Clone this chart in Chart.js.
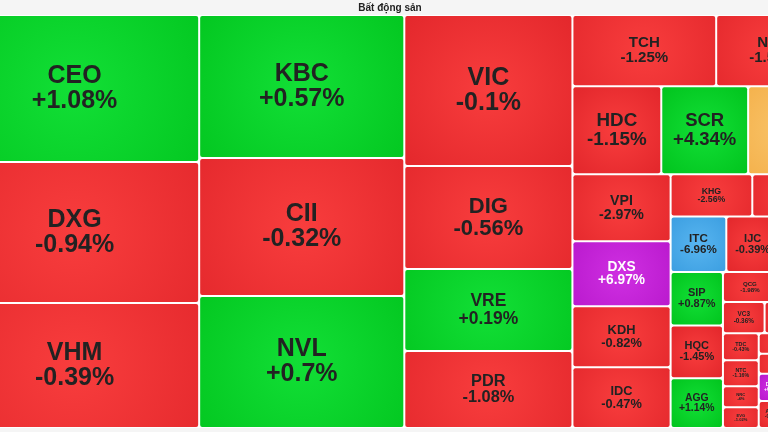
<!DOCTYPE html>
<html>
<head>
<meta charset="utf-8">
<title>Bất động sản</title>
<script src="https://cdn.jsdelivr.net/npm/chart.js"></script>
<style>
  html, body { margin: 0; padding: 0; background: #f5f5f5; overflow: hidden; }
  #wrap { position: absolute; left: -50px; top: 0; width: 880px; height: 432px; }
</style>
</head>
<body>
<div id="wrap"><canvas id="chart_1" width="880" height="432"></canvas></div>
<script>
// tickers in layout order (biggest first), size = trading value weight, change in %
const tickers = ['CEO','DXG','VHM','KBC','CII','NVL','VIC','DIG','VRE','PDR',
  'TCH','NLG','HDC','SCR','SZC','VPI','DXS','KDH','IDC','KHG',
  'HDG','ITC','IJC','NBB','SIP','HQC','AGG','QCG','CRE','VC3',
  'HAR','LDG','TDC','NTC','NRC','EVG','HPX','DIH','SJS','LHG',
  'DRH','AMD','BCM','PTL','NTL','D2D'];
const sizes = [36603,35109,31125,29315,28290,27060,25368,17304,13776,12936,
  10224,8094,7832,7656,7216,6566,6370,5980,5970,3444,
  3276,3080,2915,2820,2808,2756,2600,1620,1600,1302,
  1054,992,960,930,750,745,740,720,715,700,
  690,680,670,660,600,570];
const changes = [1.08,-0.94,-0.39,0.57,-0.32,0.7,-0.1,-0.56,0.19,-1.08,
  -1.25,-1.52,-1.15,4.34,0,-2.97,6.97,-0.82,-0.47,-2.56,
  -1.21,-6.96,-0.39,-0.85,0.87,-1.45,1.14,-1.98,-1.33,-0.36,
  -1.6,-0.9,-0.43,-1.16,-4,-1.02,-1.05,-0.5,-0.15,-0.6,
  6.9,-0.5,-0.2,-1,-0.7,-0.3];
const title = 'Bất động sản';

function palette(c) {
  if (c >= 6.9) return ['#b515c9', '#cf2fe2', '#ffffff'];
  if (c <= -6.9) return ['#3a9de0', '#58b5f0', '#222222'];
  if (c > 0) return ['#00c21c', '#12df36', '#222222'];
  if (c < 0) return ['#e1252a', '#f83d3d', '#222222'];
  return ['#f4b04a', '#f9c56b', '#222222'];
}

function fmt(c) {
  if (c === 0) return '0%';
  return (c > 0 ? '+' : '') + String(+c.toFixed(2)) + '%';
}

// squarified layout in value space, rows kept close to a landscape aspect
function squarify(vals, x0, y0, x1, y1, target) {
  const rects = [];
  let rest = vals.reduce((a, b) => a + b, 0);
  let i = 0;
  while (i < vals.length) {
    const dx = x1 - x0, dy = y1 - y0;
    const across = dx < dy;
    const len = across ? dx : dy;
    const k = dx * dy / rest;
    const score = (a, b) => {
      let s = 0;
      for (let j = a; j < b; j++) s += vals[j];
      const t = s * k / len;
      let worst = 0;
      for (let j = a; j < b; j++) {
        const along = vals[j] * k / t;
        const r = across ? along / t : t / along;
        worst = Math.max(worst, r / target, target / r);
      }
      return worst;
    };
    let end = i + 1, best = score(i, end);
    while (end < vals.length) {
      const s = score(i, end + 1);
      if (!(s <= best)) break;
      best = s;
      end++;
    }
    let sum = 0;
    for (let j = i; j < end; j++) sum += vals[j];
    const t = sum * k / len;
    let p = across ? x0 : y0;
    for (let j = i; j < end; j++) {
      const along = vals[j] * k / t;
      rects[j] = across
        ? {x0: p, y0: y0, x1: p + along, y1: y0 + t}
        : {x0: x0, y0: p, x1: x0 + t, y1: p + along};
      p += along;
    }
    if (across) y0 += t; else x0 += t;
    rest -= sum;
    i = end;
  }
  return rects;
}

class TreemapCell extends Chart.Element {
  draw(ctx) {
    const x = this.x + 1, y = this.y + 1, w = this.width - 2, h = this.height - 2;
    if (!(w > 0 && h > 0)) return;
    const pal = palette(this.change);
    const cx = x + w / 2, cy = y + h / 2;
    const g = ctx.createRadialGradient(cx, cy, 0, cx, cy, Math.max(w, h) * 0.75);
    g.addColorStop(0, pal[1]);
    g.addColorStop(1, pal[0]);
    ctx.save();
    ctx.fillStyle = g;
    ctx.beginPath();
    ctx.roundRect(x, y, w, h, 2);
    ctx.fill();
    const fs = Math.min(25, Math.min(w, h) * 0.218);
    ctx.fillStyle = pal[2];
    ctx.font = 'bold ' + fs + 'px "Liberation Sans", Arial, sans-serif';
    ctx.textAlign = 'center';
    ctx.textBaseline = 'middle';
    ctx.fillText(this.ticker, cx, cy - fs * 0.5);
    ctx.fillText(fmt(this.change), cx, cy + fs * 0.5);
    ctx.restore();
  }
}
TreemapCell.id = 'treemapCell';
TreemapCell.defaults = {};

class TreemapController extends Chart.DatasetController {
  update(mode) {
    const meta = this._cachedMeta;
    this.updateElements(meta.data, 0, meta.data.length, mode);
  }
  updateElements(cells, start, count, mode) {
    const meta = this._cachedMeta;
    const xs = meta.xScale, ys = meta.yScale;
    const ds = this.getDataset();
    const rects = squarify(ds.data, xs.min, ys.min, xs.max, ys.max, 1.3);
    for (let i = start; i < start + count; i++) {
      const r = rects[i];
      const left = xs.getPixelForValue(r.x0), right = xs.getPixelForValue(r.x1);
      const top = ys.getPixelForValue(r.y0), bottom = ys.getPixelForValue(r.y1);
      Object.assign(cells[i], {
        x: left, y: top, width: right - left, height: bottom - top,
        ticker: ds.tickers[i], change: ds.changes[i], options: {}
      });
    }
  }
}
TreemapController.id = 'treemap';
TreemapController.defaults = { dataElementType: 'treemapCell', datasetElementType: false };

const bgPlugin = {
  id: 'bg',
  beforeDraw(chart) {
    const ctx = chart.ctx, a = chart.chartArea;
    ctx.save();
    ctx.fillStyle = '#f5f5f5';
    ctx.fillRect(0, 0, chart.width, chart.height);
    ctx.fillStyle = '#ffffff';
    ctx.fillRect(a.left, a.top, a.right - a.left, a.bottom - a.top);
    ctx.restore();
  }
};

Chart.register(TreemapController, TreemapCell);

const chart_1 = document.getElementById('chart_1');
let treeChart = new Chart(chart_1, {
  type: 'treemap',
  data: {
    datasets: [{
      data: sizes,
      tickers: tickers,
      changes: changes
    }]
  },
  options: {
    responsive: false,
    animation: false,
    events: [],
    devicePixelRatio: 1,
    layout: { padding: { bottom: 4 } },
    scales: {
      x: { type: 'linear', min: 0, max: 880, display: false },
      y: { type: 'linear', min: 0, max: 413, reverse: true, display: false }
    },
    plugins: {
      legend: { display: false },
      tooltip: { enabled: false },
      title: {
        display: true,
        text: title,
        color: '#222',
        font: { family: '"Liberation Sans", Arial, sans-serif', size: 10, weight: 'bold' },
        padding: { top: 2, bottom: 1 }
      }
    }
  },
  plugins: [bgPlugin]
});
</script>
</body>
</html>
